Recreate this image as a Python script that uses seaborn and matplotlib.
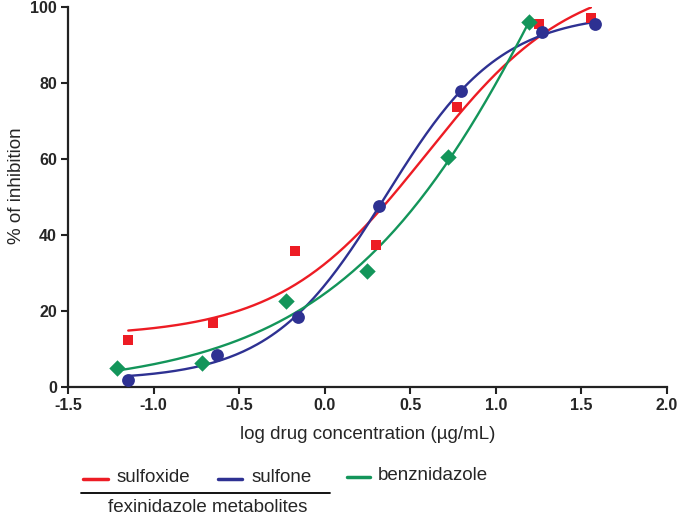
import numpy as np
import pandas as pd
import matplotlib
matplotlib.use("Agg")
import matplotlib.pyplot as plt
from matplotlib.lines import Line2D
import seaborn as sns

# data: log concentration vs % inhibition
sulfoxide_x = [-1.148, -0.651, -0.173, 0.300, 0.775, 1.254, 1.555]
sulfoxide_y = [12.4, 16.9, 35.9, 37.4, 73.6, 95.5, 97.0]
sulfone_x = [-1.148, -0.631, -0.158, 0.319, 0.797, 1.272, 1.580]
sulfone_y = [1.8, 8.4, 18.5, 47.5, 77.9, 93.5, 95.4]
benz_x = [-1.215, -0.715, -0.228, 0.246, 0.719, 1.196]
benz_y = [4.9, 6.4, 22.5, 30.4, 60.6, 96.1]

series_names = ["sulfoxide", "sulfone", "benznidazole"]
x_ticks = [-1.5, -1.0, -0.5, 0.0, 0.5, 1.0, 1.5, 2.0]
y_ticks = [0, 20, 40, 60, 80, 100]

colors = {"sulfoxide": "#ED1C24", "sulfone": "#2E3192", "benznidazole": "#13955A"}
markers = {"sulfoxide": "s", "sulfone": "o", "benznidazole": "D"}
sizes = {"sulfoxide": 50, "sulfone": 85, "benznidazole": 70}


def fit_4pl(x, y):
    """Least squares 4PL fit: grid over logEC50 / Hill, linear solve for bottom / top."""
    x = np.asarray(x)
    y = np.asarray(y)
    c = np.linspace(-1.0, 2.5, 701)[:, None, None]
    h = np.linspace(0.2, 4.0, 381)[None, :, None]
    s = 1.0 / (1.0 + 10 ** ((c - x) * h))
    s_mean = s.mean(axis=2, keepdims=True)
    y_mean = y.mean()
    var_s = ((s - s_mean) ** 2).sum(axis=2, keepdims=True)
    d = ((s - s_mean) * (y - y_mean)).sum(axis=2, keepdims=True) / var_s
    b = y_mean - d * s_mean
    sse = ((b + d * s - y) ** 2).sum(axis=2)
    i, j = np.unravel_index(np.argmin(sse), sse.shape)
    return b[i, j, 0], d[i, j, 0], c[i, 0, 0], h[0, j, 0]


punkte = []
kurven = []
for name, xs, ys in [("sulfoxide", sulfoxide_x, sulfoxide_y),
                     ("sulfone", sulfone_x, sulfone_y),
                     ("benznidazole", benz_x, benz_y)]:
    punkte.append(pd.DataFrame({"x": xs, "y": ys, "drug": name}))
    b, d, c, h = fit_4pl(xs, ys)
    xx = np.linspace(min(xs), max(xs), 200)
    kurven.append(pd.DataFrame({"x": xx, "y": b + d / (1 + 10 ** ((c - xx) * h)), "drug": name}))
punkte = pd.concat(punkte, ignore_index=True)
kurven = pd.concat(kurven, ignore_index=True)

sns.set_style("ticks")
plt.rcParams["font.family"] = ["Liberation Sans", "DejaVu Sans"]

fig = plt.figure(figsize=(6.8, 5.17), dpi=100)
ax = fig.add_axes([0.1, 0.2515, 0.881, 0.735])

sns.lineplot(data=kurven, x="x", y="y", hue="drug", palette=colors, linewidth=1.7,
             legend=False, ax=ax, sort=False)
for name in series_names:
    sub = punkte[punkte["drug"] == name]
    sns.scatterplot(data=sub, x="x", y="y", color=colors[name], marker=markers[name],
                    s=sizes[name], linewidth=0, legend=False, ax=ax, clip_on=False, zorder=3)

ax.set_xlim(-1.5, 2.0)
ax.set_ylim(0, 100)
ax.set_xticks(x_ticks)
ax.set_xticklabels([f"{t:.1f}" for t in x_ticks], fontweight="bold", fontsize=11.5)
ax.set_yticks(y_ticks)
ax.set_yticklabels([str(t) for t in y_ticks], fontweight="bold", fontsize=11.5)
ax.tick_params(direction="out", length=5, width=1.5, color="#222222", pad=3)
for sp in ["left", "bottom"]:
    ax.spines[sp].set_linewidth(1.6)
    ax.spines[sp].set_color("#222222")
sns.despine(ax=ax)
ax.set_xlabel("log drug concentration (µg/mL)", fontsize=13.5, labelpad=9)
ax.set_ylabel("% of inhibition", fontsize=13.5, va="center")
ax.yaxis.set_label_coords(-0.086, 0.529)

# legend below the axes, built by hand
W, H = 680, 517


def fx(px):
    return px / W


def fy(py):
    return 1 - py / H


for name, x0, x1, tx, py in [("sulfoxide", 83, 108, 117, 479),
                              ("sulfone", 218, 242, 252, 479),
                              ("benznidazole", 347, 370, 378, 477)]:
    fig.add_artist(Line2D([fx(x0), fx(x1)], [fy(py), fy(py)], color=colors[name], lw=2.5,
                          transform=fig.transFigure))
    fig.text(fx(tx), fy(py - 1), name, fontsize=13.5, va="center", ha="left")
fig.add_artist(Line2D([fx(81), fx(330)], [fy(493), fy(493)], color="black", lw=1.3,
                      transform=fig.transFigure))
fig.text(fx(208), fy(508), "fexinidazole metabolites", fontsize=13.5, va="center", ha="center")

fig.savefig("out.png", dpi=100)
